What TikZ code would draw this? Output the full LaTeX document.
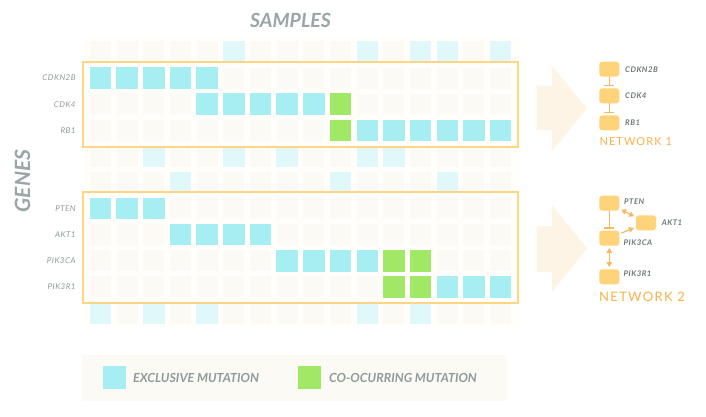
\documentclass[tikz,border=0pt]{standalone}
\usepackage{fontspec}
\setmainfont{Lato}
\newfontfamily\genefont[LetterSpace=6]{Lato}
\newfontfamily\netfont[LetterSpace=10]{Lato}
\usetikzlibrary{arrows.meta,positioning,fit}
\definecolor{cellbg}{RGB}{252,250,245}
\definecolor{panelbg}{RGB}{255,254,250}
\definecolor{lcyan}{RGB}{224,248,250}
\definecolor{mcyan}{RGB}{166,238,242}
\definecolor{mgreen}{RGB}{160,232,102}
\definecolor{frameorange}{RGB}{255,212,130}
\definecolor{arrowpeach}{RGB}{254,244,230}
\definecolor{nodeorange}{RGB}{255,211,122}
\definecolor{linkorange}{RGB}{247,184,96}
\definecolor{netorange}{RGB}{248,178,74}
\definecolor{txtgray}{RGB}{143,155,155}
\definecolor{titlegray}{RGB}{154,165,165}
\definecolor{lblgray}{RGB}{110,120,120}

\begin{document}
\begin{tikzpicture}[x=1pt, y=-1pt,
  cell/.style={minimum size=21pt, inner sep=0pt, fill=cellbg},
  gene/.style={font=\genefont\itshape\fontsize{8}{9}\selectfont, text=txtgray, inner sep=0pt},
  frame/.style={draw=frameorange, line width=2pt, inner xsep=7pt, inner ysep=5.5pt},
  gnode/.style={fill=nodeorange, rounded corners=3pt, minimum width=20pt, minimum height=15pt, inner sep=0pt},
  glabel/.style={font=\genefont\bfseries\itshape\fontsize{7.8}{8}\selectfont, text=lblgray, inner sep=0pt},
  netlabel/.style={font=\netfont, text=netorange, inner sep=0pt, anchor=west},
  legtext/.style={font=\bfseries\itshape\fontsize{12.5}{13}\selectfont, text=txtgray, inner sep=0pt, anchor=west},
  link/.style={draw=linkorange, line width=1.2pt},
  inhibit/.style={link, -{Bar[width=10pt, line width=1.2pt]}, shorten >=2pt},
  act/.style={link, -{Triangle[length=5pt, width=5.5pt]}, shorten <=2pt, shorten >=2pt},
  dact/.style={link, {Triangle[length=5pt, width=5.5pt]}-{Triangle[length=5pt, width=5.5pt]}, shorten <=2pt, shorten >=2pt}]
\useasboundingbox (0,0) rectangle (706,417);
\fill[white] (0,0) rectangle (706,417);
% Titles
\node[font=\bfseries\itshape\fontsize{19.5}{21}\selectfont, text=titlegray] (samples) at (290.5,20) {SAMPLES};
\node[font=\bfseries\itshape\fontsize{21}{22}\selectfont, text=titlegray, rotate=90] (genes) at (22.5,181) {GENES};
% Matrix
\fill[panelbg] (82.7,36.7) rectangle (520,326);
\foreach \r in {0,...,10}
  \foreach \c in {0,...,15}
    \node[cell] (c-\r-\c) at ({100.5+26.67*\c},{52+26.1*\r}) {};
\foreach \r/\c in {0/5,0/10,0/12,0/13,0/15,4/2,4/5,4/7,4/10,4/11,5/3,5/9,5/13,10/0,10/2,10/4,10/10,10/12}
  \fill[lcyan] (c-\r-\c.north west) rectangle (c-\r-\c.south east);
\foreach \r/\a/\b in {1/0/4,2/4/8,3/10/15,6/0/2,7/3/6,8/7/10,9/13/15}
  \foreach \c in {\a,...,\b}
    \fill[mcyan] (c-\r-\c.north west) rectangle (c-\r-\c.south east);
\foreach \r/\c in {2/9,3/9,8/11,8/12,9/11,9/12}
  \fill[mgreen] (c-\r-\c.north west) rectangle (c-\r-\c.south east);
% Gene rows
\node[gene, left=14pt of c-1-0] (g-cdkn2b) {CDKN2B};
\node[gene, left=14pt of c-2-0] (g-cdk4) {CDK4};
\node[gene, left=14pt of c-3-0] (g-rb1) {RB1};
\node[gene, left=14pt of c-6-0] (g-pten) {PTEN};
\node[gene, left=14pt of c-7-0] (g-akt1) {AKT1};
\node[gene, left=14pt of c-8-0] (g-pik3ca) {PIK3CA};
\node[gene, left=14pt of c-9-0] (g-pik3r1) {PIK3R1};
\node[frame, fit=(c-1-0)(c-3-15)] (box1) {};
\node[frame, fit=(c-6-0)(c-9-15)] (box2) {};
% Big arrows
\fill[arrowpeach] (536.7,85.7) -- (552,85.7) -- (552,65.7) -- (587,108.3) -- (552,151) -- (552,130) -- (536.7,130) -- cycle;
\fill[arrowpeach] (536.7,226) -- (552,226) -- (552,205) -- (587,248.5) -- (552,291.7) -- (552,272) -- (536.7,272) -- cycle;
% Network 1
\node[gnode] (n-cdkn2b) at (609.3,69.2) {};
\node[gnode] (n-cdk4) at (609.3,95.8) {};
\node[gnode] (n-rb1) at (609.3,122.8) {};
\node[glabel, right=5.5pt of n-cdkn2b] (t-cdkn2b) {CDKN2B};
\node[glabel, right=5.5pt of n-cdk4] (t-cdk4) {CDK4};
\node[glabel, right=5.5pt of n-rb1] (t-rb1) {RB1};
\draw[inhibit] (n-cdkn2b) -- (n-cdk4);
\draw[inhibit] (n-cdk4) -- (n-rb1);
\node[netlabel, font=\netfont\fontsize{11}{12}\selectfont] (net1) at (599.3,141.7) {NETWORK 1};
% Network 2
\node[gnode] (n-pten) at (609.3,203.2) {};
\node[gnode] (n-akt1) at (646,222.8) {};
\node[gnode] (n-pik3ca) at (609.3,238.2) {};
\node[gnode] (n-pik3r1) at (609.3,276.8) {};
\node[glabel, right=4.5pt of n-pten, yshift=1.5pt] (t-pten) {PTEN};
\node[glabel, right=5.5pt of n-akt1] (t-akt1) {AKT1};
\node[glabel, anchor=west] (t-pik3ca) at ([xshift=4pt, yshift=-4pt]n-pik3ca.east) {PIK3CA};
\node[glabel, right=4pt of n-pik3r1, yshift=3pt] (t-pik3r1) {PIK3R1};
\draw[inhibit] (n-pten) -- (n-pik3ca);
\draw[dact] (n-pten) -- (n-akt1);
\draw[act] (n-pik3ca) -- (n-akt1);
\draw[dact] (n-pik3ca) -- (n-pik3r1);
\node[netlabel, font=\netfont\fontsize{13}{14}\selectfont] (net2) at (599,296.7) {NETWORK 2};
% Legend
\fill[cellbg] (82,355) rectangle (507,401);
\node[minimum size=23pt, inner sep=0pt, fill=mcyan] (key-excl) at (114.2,377.6) {};
\node[legtext, right=7pt of key-excl] (lab-excl) {EXCLUSIVE MUTATION};
\node[minimum size=23pt, inner sep=0pt, fill=mgreen] (key-co) at (309.2,377.6) {};
\node[legtext, right=8pt of key-co] (lab-co) {CO-OCURRING MUTATION};
\end{tikzpicture}
\end{document}
